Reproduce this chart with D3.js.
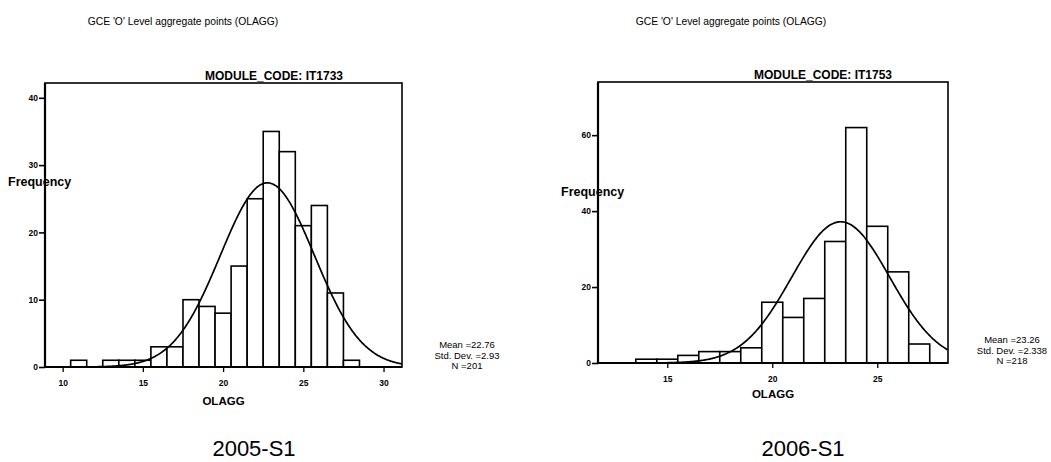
<!DOCTYPE html>
<html>
<head>
<meta charset="utf-8">
<script src="https://cdn.jsdelivr.net/npm/d3@7"></script>
<style>
  html, body { margin: 0; padding: 0; background: #fff; }
  svg { display: block; }
  text { font-family: "Liberation Sans", Arial, sans-serif; fill: #000; }
</style>
</head>
<body>
<svg id="chart" width="1051" height="462"></svg>
<script>
// ---- data ----
const pageTitle = "GCE 'O' Level aggregate points (OLAGG)";
const panelLabels = ["2005-S1", "2006-S1"];
const moduleCodes = ["MODULE_CODE: IT1733", "MODULE_CODE: IT1753"];
const xLabel = "OLAGG";
const yLabel = "Frequency";

const bins2005 = [11, 13, 14, 15, 16, 17, 18, 19, 20, 21, 22, 23, 24, 25, 26, 27, 28];
const counts2005 = [1, 1, 1, 1, 3, 3, 10, 9, 8, 15, 25, 35, 32, 21, 24, 11, 1];
const bins2006 = [14, 15, 16, 17, 18, 19, 20, 21, 22, 23, 24, 25, 26, 27];
const counts2006 = [1, 1, 2, 3, 3, 4, 16, 12, 17, 32, 62, 36, 24, 5];

const means = [22.76, 23.26];
const stdDevs = [2.93, 2.338];
const meanText = ["22.76", "23.26"];
const sdText = ["2.93", "2.338"];
const nValues = [201, 218];

const xTicks2005 = [10, 15, 20, 25, 30];
const xTicks2006 = [15, 20, 25];
const yTicks2005 = [0, 10, 20, 30, 40];
const yTicks2006 = [0, 20, 40, 60];

// ---- layout ----
const svg = d3.select("#chart");

const panels = [
  {
    bins: bins2005, counts: counts2005, mean: means[0], sd: stdDevs[0], n: nValues[0],
    meanT: meanText[0], sdT: sdText[0],
    xTicks: xTicks2005, yTicks: yTicks2005,
    xDomain: [8.9, 31.15], yDomain: [0, 42.2],
    left: 45, right: 402, top: 83, bottom: 367,
    titleX: 183, moduleX: 274, moduleY: 80,
    freqX: 8, freqY: 186, olaggY: 405,
    statsX: 467, statsY: 348,
    label: panelLabels[0], labelX: 254, module: moduleCodes[0]
  },
  {
    bins: bins2006, counts: counts2006, mean: means[1], sd: stdDevs[1], n: nValues[1],
    meanT: meanText[1], sdT: sdText[1],
    xTicks: xTicks2006, yTicks: yTicks2006,
    xDomain: [11.7, 28.37], yDomain: [0, 74],
    left: 598, right: 948, top: 82, bottom: 363,
    titleX: 731, moduleX: 823, moduleY: 79,
    freqX: 561, freqY: 196, olaggY: 398,
    statsX: 1012, statsY: 343,
    label: panelLabels[1], labelX: 803, module: moduleCodes[1]
  }
];

panels.forEach(p => {
  const x = d3.scaleLinear().domain(p.xDomain).range([p.left, p.right]);
  const y = d3.scaleLinear().domain(p.yDomain).range([p.bottom, p.top]);
  const g = svg.append("g");

  // page title
  g.append("text")
    .attr("x", p.titleX).attr("y", 25)
    .attr("text-anchor", "middle")
    .style("font-size", "10.3px")
    .text(pageTitle);

  // module code
  g.append("text")
    .attr("x", p.moduleX).attr("y", p.moduleY)
    .attr("text-anchor", "middle")
    .style("font-size", "12px").style("font-weight", "bold")
    .text(p.module);

  // bars
  const data = p.bins.map((b, i) => ({ b, c: p.counts[i] }));
  g.append("g").selectAll("rect").data(data).join("rect")
    .attr("x", d => x(d.b - 0.5))
    .attr("width", d => x(d.b + 0.5) - x(d.b - 0.5))
    .attr("y", d => y(d.c))
    .attr("height", d => y(0) - y(d.c))
    .attr("fill", "#fff")
    .attr("stroke", "#000")
    .attr("stroke-width", 1.6);

  // fitted normal curve (from mean, sd, N; bin width 1)
  const pdf = v => p.n / (p.sd * Math.sqrt(2 * Math.PI)) * Math.exp(-0.5 * Math.pow((v - p.mean) / p.sd, 2));
  const xs = d3.range(p.xDomain[0], p.xDomain[1] + 0.001, 0.05);
  g.append("path")
    .datum(xs)
    .attr("d", d3.line().x(v => x(v)).y(v => y(pdf(v))).curve(d3.curveBasis))
    .attr("fill", "none")
    .attr("stroke", "#000")
    .attr("stroke-width", 1.7);

  // frame
  g.append("rect")
    .attr("x", p.left).attr("y", p.top)
    .attr("width", p.right - p.left).attr("height", p.bottom - p.top)
    .attr("fill", "none").attr("stroke", "#000").attr("stroke-width", 1.6);
  g.append("line")
    .attr("x1", p.left).attr("x2", p.left).attr("y1", p.top).attr("y2", p.bottom)
    .attr("stroke", "#000").attr("stroke-width", 2.2);
  g.append("line")
    .attr("x1", p.left).attr("x2", p.right).attr("y1", p.bottom).attr("y2", p.bottom)
    .attr("stroke", "#000").attr("stroke-width", 2.2);

  // axes
  const ya = g.append("g")
    .attr("transform", `translate(${p.left},0)`)
    .call(d3.axisLeft(y).tickValues(p.yTicks).tickSize(6).tickPadding(1).tickFormat(d3.format("d")));
  ya.select(".domain").remove();
  ya.selectAll("line").attr("stroke-width", 1.6);
  ya.selectAll("text").style("font-size", "8.5px").style("font-weight", "bold").style("font-family", "Liberation Sans, Arial, sans-serif");

  const xa = g.append("g")
    .attr("transform", `translate(0,${p.bottom})`)
    .call(d3.axisBottom(x).tickValues(p.xTicks).tickSize(5).tickPadding(8).tickFormat(d3.format("d")));
  xa.select(".domain").remove();
  xa.selectAll("line").attr("stroke-width", 1.3);
  xa.selectAll("text").style("font-size", "8.5px").style("font-weight", "bold").style("font-family", "Liberation Sans, Arial, sans-serif");

  // axis labels
  g.append("text")
    .attr("x", p.freqX).attr("y", p.freqY)
    .style("font-size", "12.5px").style("font-weight", "bold")
    .text(yLabel);
  g.append("text")
    .attr("x", (p.left + p.right) / 2).attr("y", p.olaggY)
    .attr("text-anchor", "middle")
    .style("font-size", "11.5px").style("font-weight", "bold")
    .text(xLabel);

  // stats
  const stats = ["Mean =" + p.meanT, "Std. Dev. =" + p.sdT, "N =" + p.n];
  g.append("g").selectAll("text").data(stats).join("text")
    .attr("x", p.statsX)
    .attr("y", (d, i) => p.statsY + i * 10.5)
    .attr("text-anchor", "middle")
    .style("font-size", "9.5px")
    .text(d => d);

  // panel label
  g.append("text")
    .attr("x", p.labelX).attr("y", 456)
    .attr("text-anchor", "middle")
    .style("font-size", "22px")
    .text(p.label);
});
</script>
</body>
</html>
